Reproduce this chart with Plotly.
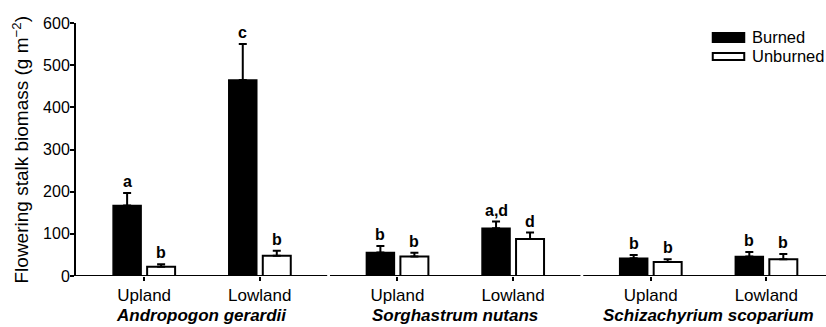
import plotly.graph_objects as go

# Flowering stalk biomass by species, landscape position and fire treatment
species = ["Andropogon gerardii", "Sorghastrum nutans", "Schizachyrium scoparium"]
sites = ["Upland", "Lowland"]

burned_mean = [167, 465, 56, 113, 42, 46]
burned_se = [30, 85, 15, 16, 8, 11]
burned_letters = ["a", "c", "b", "a,d", "b", "b"]

unburned_mean = [22, 48, 46, 88, 33, 40]
unburned_se = [6, 12, 9, 15, 7, 12]
unburned_letters = ["b", "b", "b", "d", "b", "b"]

y_ticks = [0, 100, 200, 300, 400, 500, 600]

FONT = "Liberation Sans, Arial, sans-serif"
GROUP_STRIDE = 2.19      # distance between species groups (in site units)
BAR_W = 0.242
BAR_OFF = 0.147
X_MIN, X_MAX = -0.589, 5.896

# category centres: species group g, site i
centres = [g * GROUP_STRIDE + i for g in range(len(species)) for i in range(len(sites))]
tick_text = [s for _ in species for s in sites]
x_burned = [c - BAR_OFF for c in centres]
x_unburned = [c + BAR_OFF for c in centres]

fig = go.Figure()

err_style = dict(type="data", symmetric=False, color="black", thickness=2, width=4)

fig.add_trace(go.Bar(
    x=x_burned, y=burned_mean, width=BAR_W, name="Burned",
    marker=dict(color="black", line=dict(color="black", width=1.5)),
    error_y=dict(array=burned_se, arrayminus=[0] * len(burned_se), **err_style),
    showlegend=False,
))
fig.add_trace(go.Bar(
    x=x_unburned, y=unburned_mean, width=BAR_W, name="Unburned",
    marker=dict(color="white", line=dict(color="black", width=2)),
    error_y=dict(array=unburned_se, arrayminus=[0] * len(unburned_se), **err_style),
    showlegend=False,
))

annotations = []
# significance letters above the error bars
for xs, means, ses, letters in [(x_burned, burned_mean, burned_se, burned_letters),
                                 (x_unburned, unburned_mean, unburned_se, unburned_letters)]:
    for x, m, s, t in zip(xs, means, ses, letters):
        annotations.append(dict(
            x=x, y=m + s, xref="x", yref="y", text=f"<b>{t}</b>", showarrow=False,
            xanchor="center", yanchor="bottom", yshift=1,
            font=dict(family=FONT, size=16, color="black"),
        ))

# species names under each pair of sites
for g, sp in enumerate(species):
    annotations.append(dict(
        x=g * GROUP_STRIDE + 0.5, y=-0.158, xref="x", yref="paper",
        text=f"<b><i>{sp}</i></b>", showarrow=False, xanchor="center", yanchor="middle",
        font=dict(family=FONT, size=17, color="black"),
    ))

# y-axis title
annotations.append(dict(
    x=0, y=0.5, xref="paper", yref="paper", xshift=-56, textangle=-90,
    text="Flowering stalk biomass (g m<sup>\u22122</sup>)", showarrow=False,
    xanchor="center", yanchor="middle",
    font=dict(family=FONT, size=19, color="black"),
))

# legend entries
legend_items = [("Burned", "black", 0.960, 0.925, 0.943),
                ("Unburned", "white", 0.881, 0.854, 0.868)]
shapes = []
for label, fill, y_top, y_bot, y_txt in legend_items:
    shapes.append(dict(type="rect", xref="paper", yref="paper",
                       x0=0.849, x1=0.891, y0=y_bot, y1=y_top,
                       fillcolor=fill, line=dict(color="black", width=2)))
    annotations.append(dict(
        x=0.898, y=y_txt, xref="paper", yref="paper", text=label, showarrow=False,
        xanchor="left", yanchor="middle",
        font=dict(family=FONT, size=16.5, color="black"),
    ))

# x-axis baseline drawn per species group, with small breaks between groups
mids = [(g * GROUP_STRIDE + 1 + (g + 1) * GROUP_STRIDE) / 2 for g in range(len(species) - 1)]
bounds = [X_MIN] + [v for m in mids for v in (m - 0.012, m + 0.012)] + [X_MAX]
for a, b in zip(bounds[0::2], bounds[1::2]):
    shapes.append(dict(type="line", xref="x", yref="y", x0=a, x1=b, y0=0, y1=0,
                       line=dict(color="black", width=2), layer="above"))

fig.update_layout(
    width=826, height=327,
    margin=dict(l=76, r=0, t=23, b=51),
    plot_bgcolor="white", paper_bgcolor="white",
    barmode="overlay",
    font=dict(family=FONT, color="black"),
    annotations=annotations,
    shapes=shapes,
    xaxis=dict(
        range=[X_MIN, X_MAX], tickmode="array", tickvals=centres, ticktext=tick_text,
        ticks="outside", ticklen=4, tickwidth=1.5, tickcolor="black",
        showline=False, showgrid=False, zeroline=False,
        tickfont=dict(family=FONT, size=17, color="black"),
    ),
    yaxis=dict(
        range=[0, 600], tickmode="array", tickvals=y_ticks,
        ticks="outside", ticklen=4, tickwidth=1.5, tickcolor="black",
        ticklabelstandoff=-3,
        showline=True, linecolor="black", linewidth=2,
        showgrid=False, zeroline=False,
        tickfont=dict(family=FONT, size=16, color="black"),
    ),
)

fig.write_html("out.html")
